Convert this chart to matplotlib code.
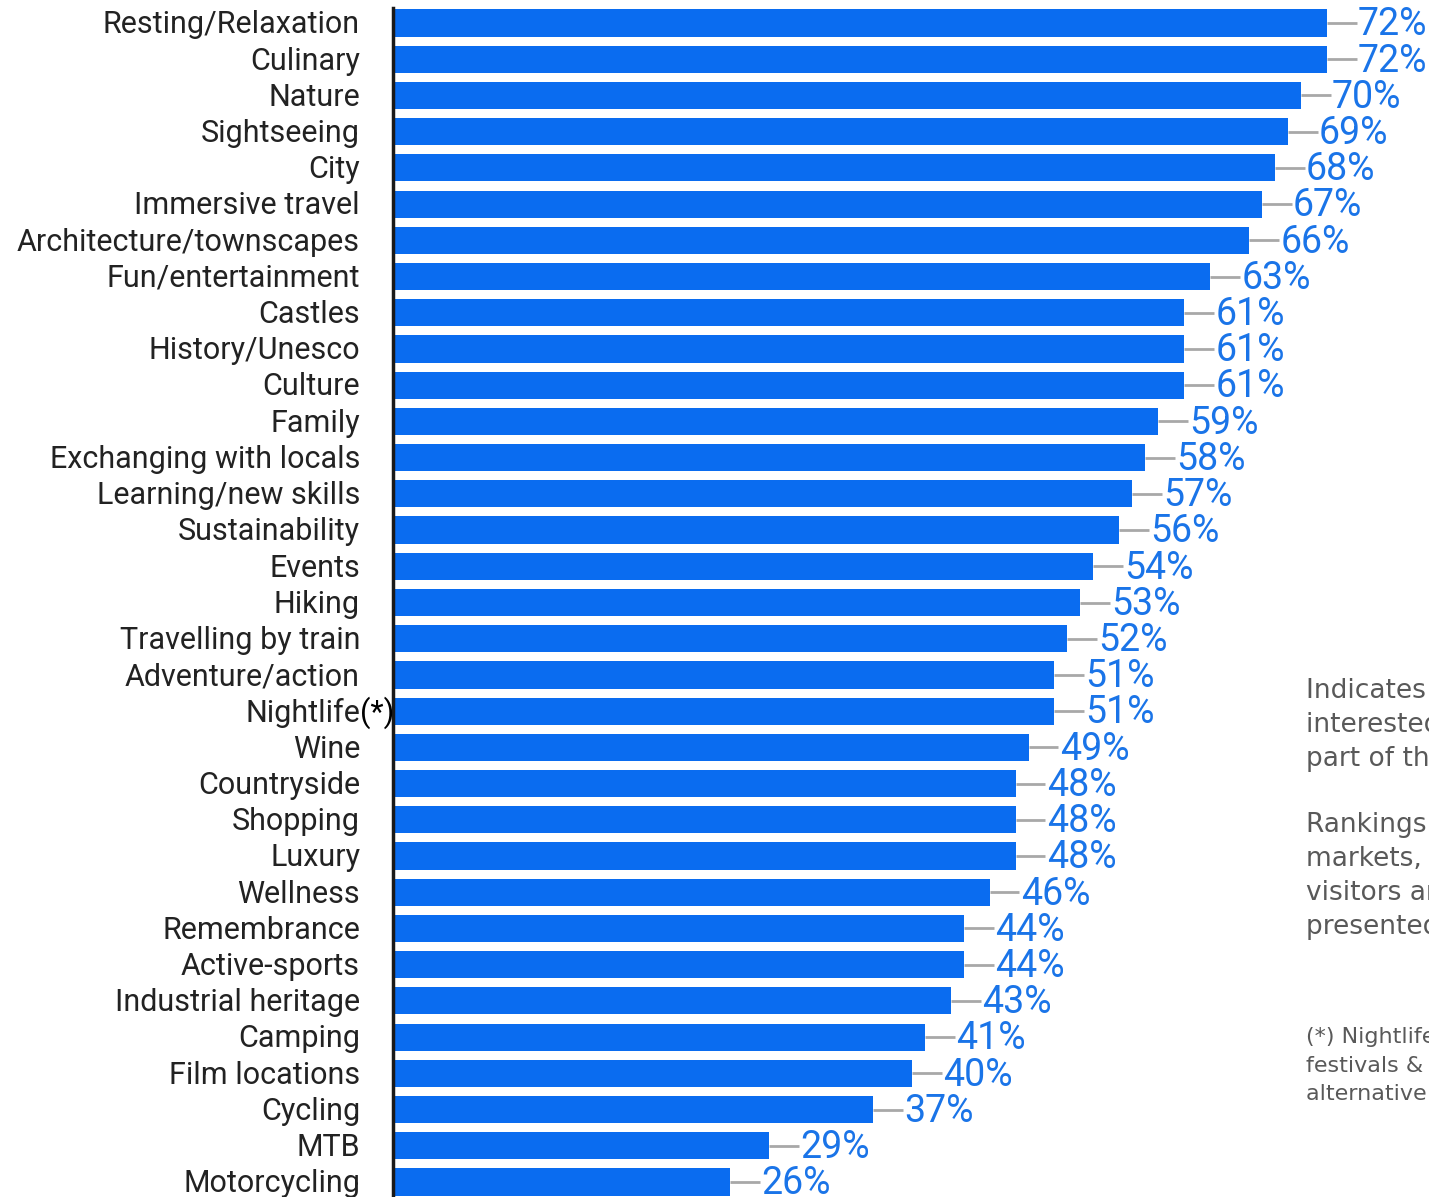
import matplotlib.pyplot as plt
from matplotlib.transforms import offset_copy

plt.rcParams['font.family'] = ['Roboto', 'DejaVu Sans']

# interest in travel themes, share of respondents (%)
themes = [
    'Resting/Relaxation', 'Culinary', 'Nature', 'Sightseeing', 'City',
    'Immersive travel', 'Architecture/townscapes', 'Fun/entertainment',
    'Castles', 'History/Unesco', 'Culture', 'Family',
    'Exchanging with locals', 'Learning/new skills', 'Sustainability',
    'Events', 'Hiking', 'Travelling by train', 'Adventure/action',
    'Nightlife', 'Wine', 'Countryside', 'Shopping', 'Luxury', 'Wellness',
    'Remembrance', 'Active-sports', 'Industrial heritage', 'Camping',
    'Film locations', 'Cycling', 'MTB', 'Motorcycling',
]
shares = [72, 72, 70, 69, 68, 67, 66, 63, 61, 61, 61, 59, 58, 57, 56,
          54, 53, 52, 51, 51, 49, 48, 48, 48, 46, 44, 44, 43, 41, 40,
          37, 29, 26]
starred = 'Nightlife'

side_notes = [
    ['Indicates the share of visitors',
     'interested in each theme as',
     'part of their next trip'],
    ['Rankings may differ between',
     'markets, as the profiles of',
     'visitors are different and are',
     'presented separately'],
]
footnote = ['(*) Nightlife includes',
            'festivals & concerts and',
            'alternative culture']

BAR = '#0a6cf0'
PCT = '#1a74e8'
W, H = 1429, 1197

fig = plt.figure(figsize=(W / 100, H / 100), dpi=100)
ax_left = 393 / W
ax_top = 8 / H
ax = fig.add_axes([ax_left, 0, 1 - ax_left, 1 - ax_top])

n = len(themes)
ypos = list(range(n))
ax.barh(ypos, shares, height=0.75, color=BAR, edgecolor='none')
ax.set_ylim(n - 1 + 0.414, -0.414)
ax.set_xlim(0, (W - 393) / 12.97)

# leader line and value label for each bar
lead = 2.3
for y, v in zip(ypos, shares):
    ax.plot([v, v + lead], [y, y], color='#a8a8a8', lw=2, solid_capstyle='butt')
    ax.text(v + lead + 0.1, y + 0.05, f'{v}%', color=PCT, fontsize=27,
            ha='left', va='center')

# category labels to the left of the axis line
lab_tr = offset_copy(ax.get_yaxis_transform(), fig=fig, x=-33, y=0, units='dots')
for y, name in zip(ypos, themes):
    ax.text(0, y + 0.05, name, transform=lab_tr, ha='right', va='center',
            fontsize=22, color='#222222')
    if name == starred:
        ax.text(0, y + 0.05, '(*)', transform=lab_tr, ha='left', va='center',
                fontsize=22, color='#000000')

ax.set_yticks([])
ax.set_xticks([])
for side in ['top', 'right', 'bottom']:
    ax.spines[side].set_visible(False)
ax.spines['left'].set_linewidth(2.5)
ax.spines['left'].set_color('#1a1a1a')

# notes on the right, running off the page edge
note_x = 1306 / W
for block, y0 in zip(side_notes, [691, 825]):
    for i, line in enumerate(block):
        fig.text(note_x, 1 - (y0 + 34 * i) / H, line, fontsize=19,
                 color='#595959', ha='left', va='center',
                 family=['DejaVu Sans'])
for i, line in enumerate(footnote):
    fig.text(note_x, 1 - (1037 + 28.5 * i) / H, line, fontsize=16,
             color='#595959', ha='left', va='center',
             family=['DejaVu Sans'])

fig.savefig('out.png', dpi=100)
